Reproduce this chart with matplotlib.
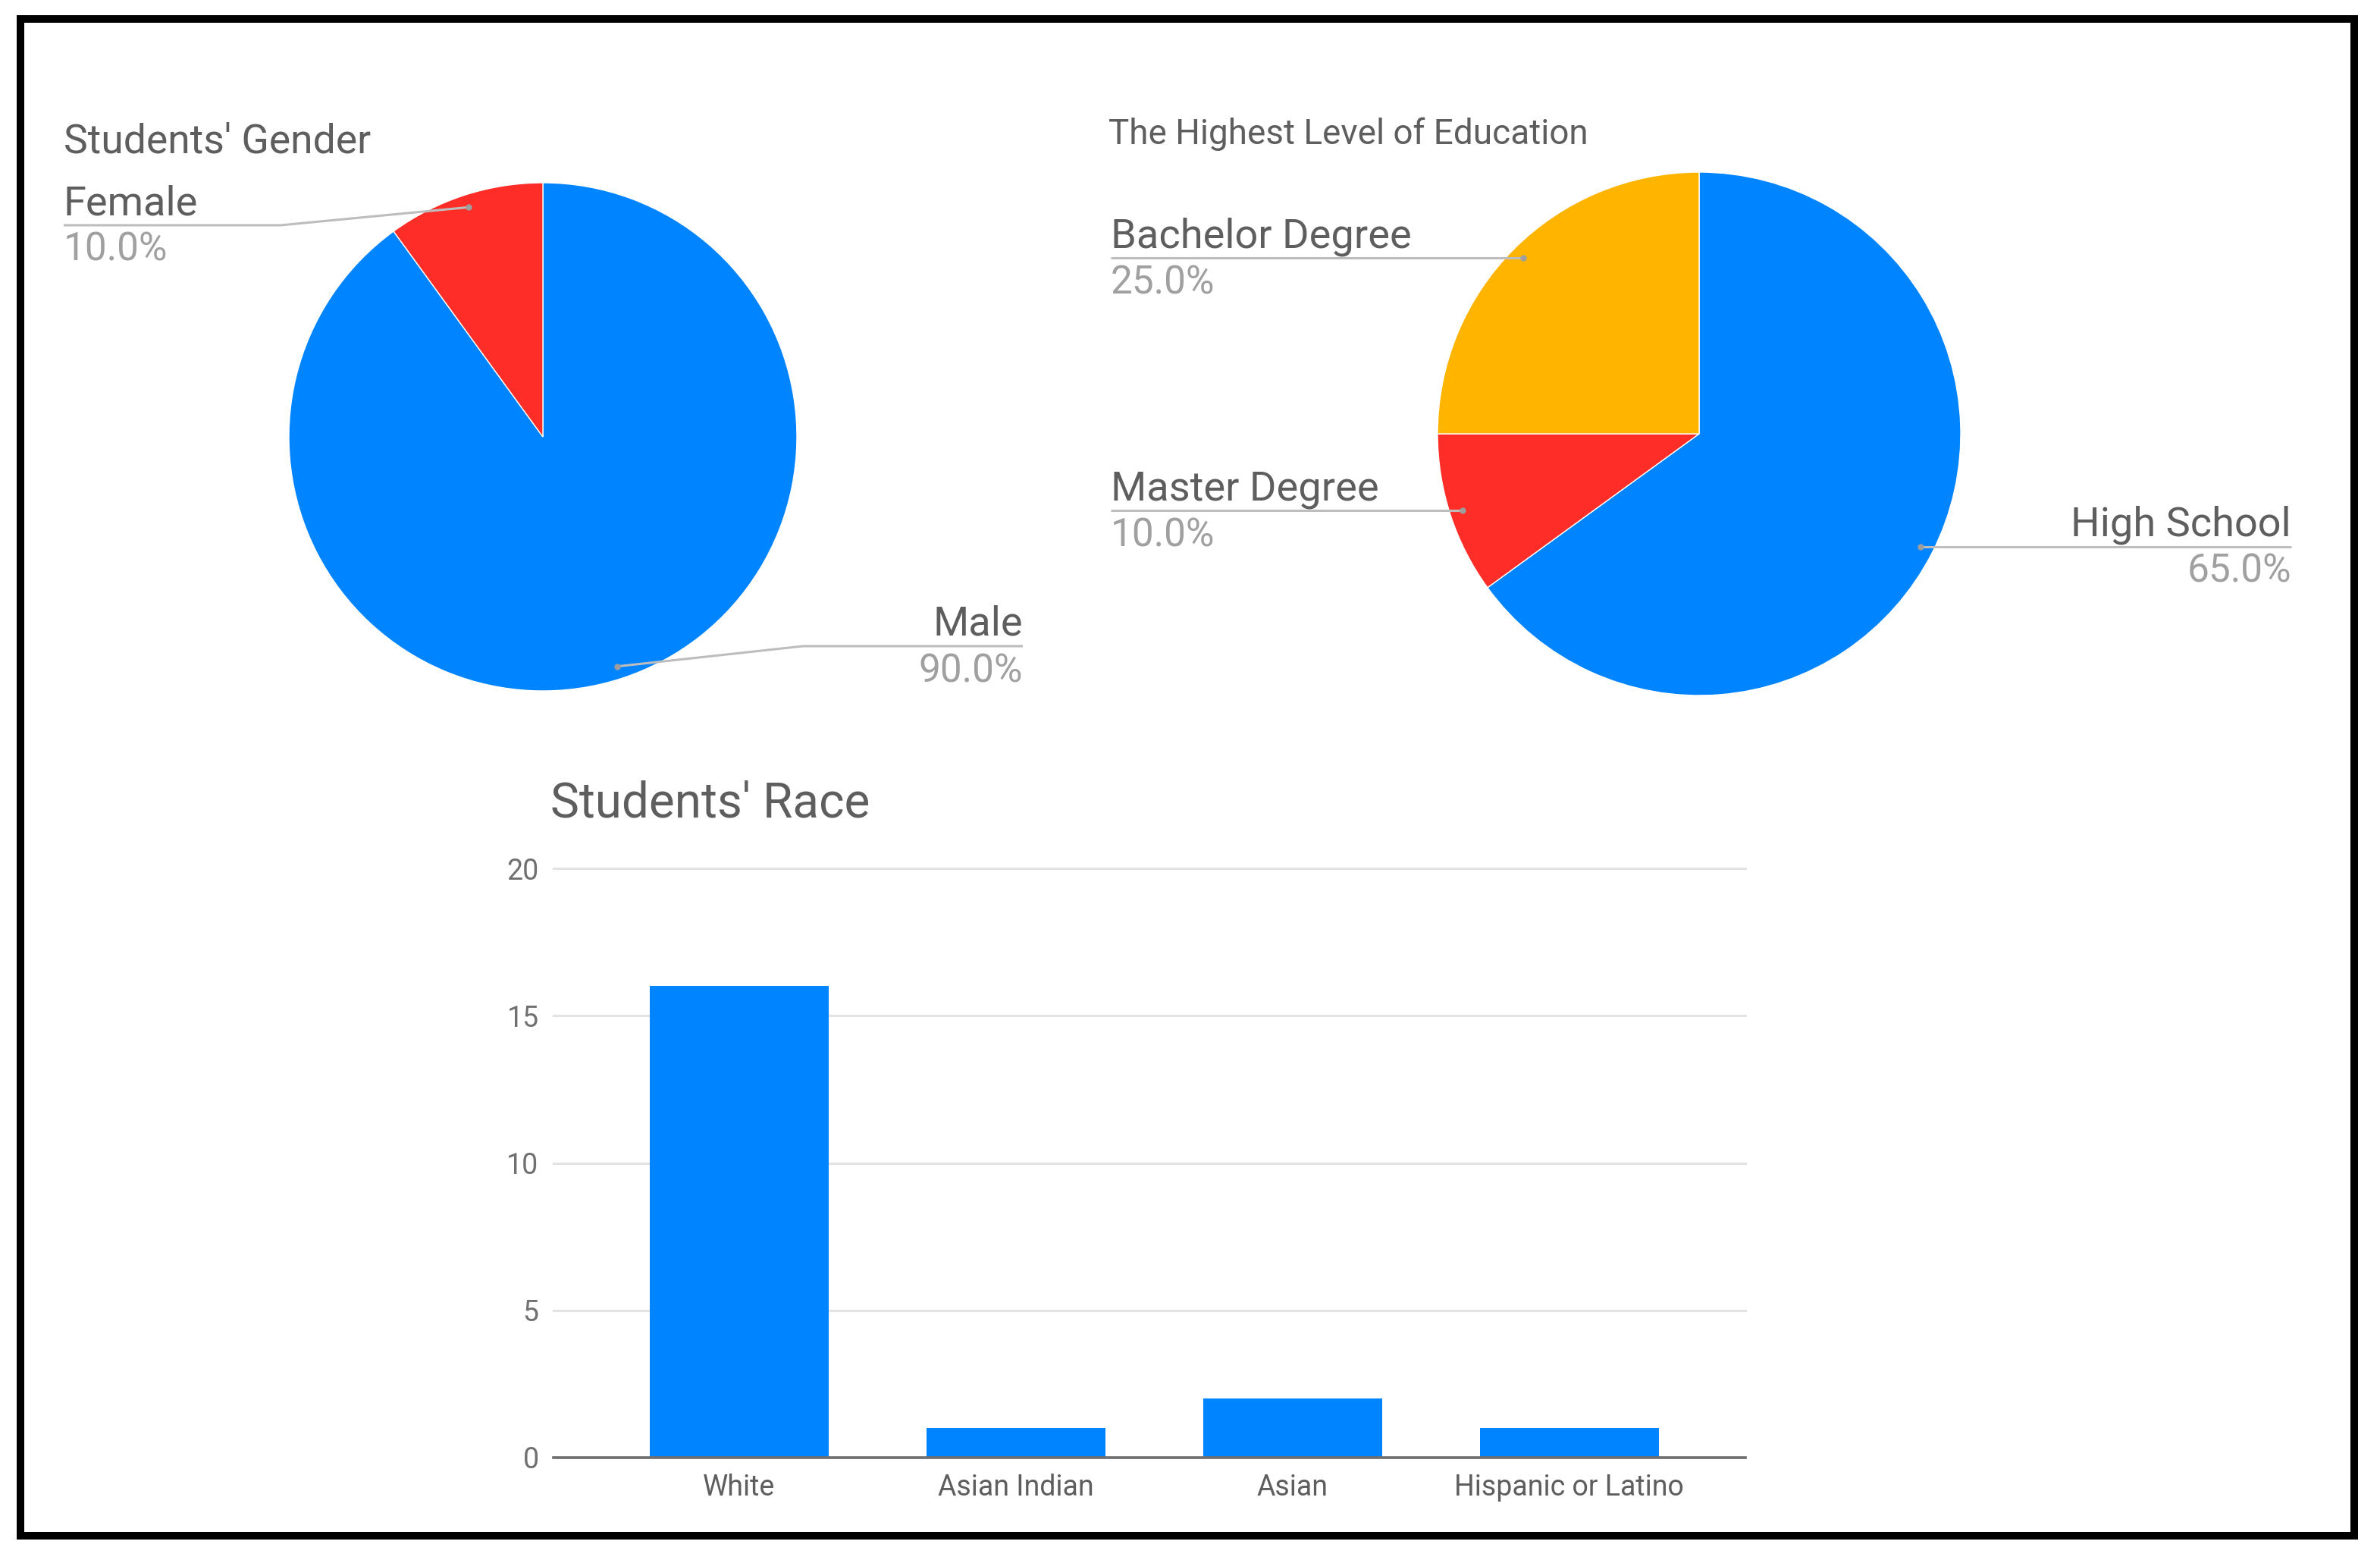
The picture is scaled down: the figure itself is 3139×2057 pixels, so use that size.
import matplotlib
matplotlib.use("Agg")
import matplotlib.pyplot as plt
from matplotlib.patches import Rectangle
import numpy as np

# ---------------- data ----------------
gender_labels = ["Male", "Female"]
gender_values = [90.0, 10.0]
gender_colors = ["#0084FF", "#FF2D28"]

edu_labels = ["High School", "Master Degree", "Bachelor Degree"]
edu_values = [65.0, 10.0, 25.0]
edu_colors = ["#0084FF", "#FF2D28", "#FFB400"]

race_labels = ["White", "Asian Indian", "Asian", "Hispanic or Latino"]
race_counts = [16, 1, 2, 1]
race_yticks = [0, 5, 10, 15, 20]

gender_title = "Students' Gender"
edu_title = "The Highest Level of Education"
race_title = "Students' Race"

# ---------------- style ----------------
W, H = 3139, 2057
plt.rcParams['font.family'] = ['Roboto', 'DejaVu Sans']
LABEL_C = "#5E5E5E"
PCT_C = "#A0A0A0"
LINE_C = "#BDBDBD"
DOT_C = "#9E9E9E"

fig = plt.figure(figsize=(W / 100, H / 100), dpi=100)
fig.patch.set_facecolor("white")


def px_rect(x0, y0, x1, y1):
    """top-origin pixel box -> figure fraction rect"""
    return [x0 / W, 1 - y1 / H, (x1 - x0) / W, (y1 - y0) / H]


overlay = fig.add_axes([0, 0, 1, 1], zorder=5)
overlay.set_xlim(0, W)
overlay.set_ylim(H, 0)
overlay.axis("off")
overlay.patch.set_alpha(0)


def make_pie(cx, cy, r, values, colors):
    ax = fig.add_axes(px_rect(cx - r, cy - r, cx + r, cy + r))
    wedges, _ = ax.pie(values, colors=colors, startangle=90, counterclock=False,
                       radius=1, wedgeprops=dict(edgecolor="white", linewidth=1))
    ax.set_xlim(-1, 1)
    ax.set_ylim(-1, 1)
    ax.axis("off")
    return ax, wedges


def anchor(ax, wedge, frac=0.95):
    th = np.deg2rad((wedge.theta1 + wedge.theta2) / 2)
    dx, dy = ax.transData.transform((frac * np.cos(th), frac * np.sin(th)))
    return dx, H - dy


def label_slice(ax, wedge, label, value, text_x, ha, line_y=None, elbow_x=None,
                lsize=39, psize=37):
    dot = anchor(ax, wedge)
    if line_y is None:
        line_y = dot[1]
    if elbow_x is None:
        elbow_x = dot[0]
    overlay.plot([dot[0], elbow_x, text_x], [dot[1], line_y, line_y],
                 color=LINE_C, lw=2.2, solid_capstyle="butt", zorder=2)
    overlay.plot([dot[0]], [dot[1]], "o", ms=5, color=DOT_C, zorder=3)
    overlay.text(text_x, line_y - 14, label, ha=ha, va="baseline",
                 fontsize=lsize, color=LABEL_C)
    overlay.text(text_x, line_y + 47, f"{value:.1f}%", ha=ha, va="baseline",
                 fontsize=psize, color=PCT_C)


# ---------------- gender pie ----------------
ax_g, wg = make_pie(716, 576, 335, gender_values, gender_colors)
overlay.text(84, 202, gender_title, ha="left", va="baseline", fontsize=38.5, color=LABEL_C)
label_slice(ax_g, wg[1], gender_labels[1], gender_values[1], 84, "left",
            line_y=297, elbow_x=370)
label_slice(ax_g, wg[0], gender_labels[0], gender_values[0], 1349, "right",
            line_y=852, elbow_x=1059)

# ---------------- education pie ----------------
ax_e, we = make_pie(2241, 572, 345, edu_values, edu_colors)
overlay.text(1462, 190, edu_title, ha="left", va="baseline", fontsize=33, color=LABEL_C)
label_slice(ax_e, we[2], edu_labels[2], edu_values[2], 1465, "left")
label_slice(ax_e, we[1], edu_labels[1], edu_values[1], 1465, "left")
label_slice(ax_e, we[0], edu_labels[0], edu_values[0], 3022, "right")

# ---------------- race bar chart ----------------
overlay.text(726, 1077, race_title, ha="left", va="baseline", fontsize=46, color=LABEL_C)
ax_b = fig.add_axes(px_rect(730, 1145, 2302, 1922))
xpos = np.arange(len(race_labels))
ax_b.bar(xpos, race_counts, width=0.647, color="#0084FF", zorder=3)
ax_b.set_xlim(-0.671, 3.636)
ax_b.set_ylim(0, 20)
ax_b.set_yticks(race_yticks)
ax_b.set_xticks(xpos, race_labels)
ax_b.grid(axis="y", color="#E3E3E3", lw=2.2)
ax_b.set_axisbelow(True)
for ln in ax_b.get_ygridlines():
    ln.set_clip_on(False)
for s in ["top", "right", "left"]:
    ax_b.spines[s].set_visible(False)
ax_b.spines["bottom"].set_color("#6E6E6E")
ax_b.spines["bottom"].set_linewidth(2.6)
ax_b.spines["bottom"].set_zorder(4)
ax_b.tick_params(axis="y", length=0, labelsize=27, labelcolor="#707070", pad=14)
ax_b.tick_params(axis="x", length=0, labelsize=27, labelcolor="#5E5E5E", pad=15)
ax_b.patch.set_alpha(0)

# ---------------- outer frame ----------------
overlay.add_patch(Rectangle((27, 25), 3078, 2000, fill=False, lw=7.2,
                            ec="black", joinstyle="miter", zorder=10))

fig.savefig("out.png", dpi=100, facecolor="white")
